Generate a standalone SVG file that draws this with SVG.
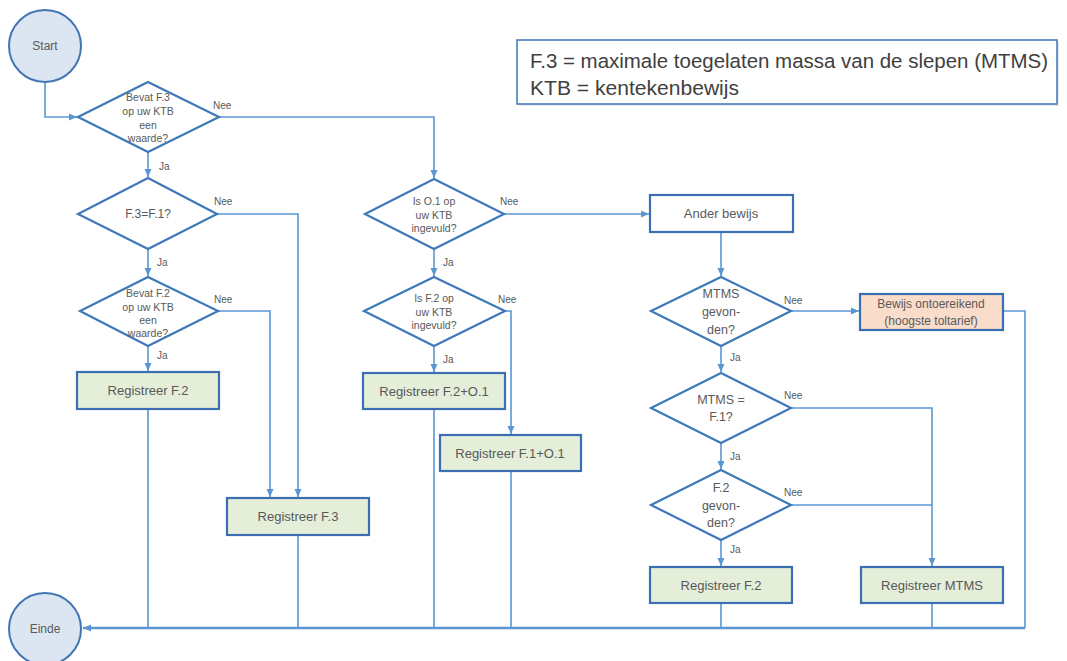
<svg xmlns="http://www.w3.org/2000/svg" width="1067" height="661" viewBox="0 0 1067 661">
<style>
.bg{fill:#ffffff}
.circ{fill:#dce6f2;stroke:#4275b4;stroke-width:2}
.dia{fill:#ffffff;stroke:#3f78ba;stroke-width:2.2}
.box{fill:#e4eed9;stroke:#3b6fb2;stroke-width:2.2}
.warn{fill:#fadccb;stroke:#3b6fb2;stroke-width:2.2}
.leg{fill:#ffffff;stroke:#4a7ebb;stroke-width:1.6}
.ln{fill:none;stroke:#5b96d3;stroke-width:1.6}
.thick{fill:none;stroke:#5b96d3;stroke-width:2.6}
text{font-family:"Liberation Sans",Arial,sans-serif;fill:#595959}
.t{font-size:13px;text-anchor:middle}
.s{font-size:10.5px;text-anchor:middle}
.m{font-size:12.5px;text-anchor:middle}
.lab{font-size:10px}
.lg{font-size:20.5px;fill:#404040}
</style>
<defs>
<marker id="arr" markerUnits="userSpaceOnUse" markerWidth="9" markerHeight="9" refX="8" refY="4" orient="auto">
<path d="M0,0.5 L8,4 L0,7.5 z" fill="#5b96d3"/>
</marker>
</defs>
<rect class="bg" x="0" y="0" width="1067" height="661"/>

<g id="legend">
<rect x="519" y="42" width="540" height="64" fill="#d9d9d9" opacity="0.6"/>
<rect class="leg" x="517" y="40" width="540" height="64"/>
<text class="lg" x="530" y="68" textLength="518" lengthAdjust="spacingAndGlyphs">F.3 = maximale toegelaten massa van de slepen (MTMS)</text>
<text class="lg" x="530" y="95" textLength="209" lengthAdjust="spacingAndGlyphs">KTB = kentekenbewijs</text>
</g>

<g id="connectors">
<path class="ln" d="M45,82 V117 H77" marker-end="url(#arr)"/>
<path class="ln" d="M219,117 H434 V178" marker-end="url(#arr)"/>
<path class="ln" d="M148,152 V177" marker-end="url(#arr)"/>
<path class="ln" d="M217,214 H298 V497" marker-end="url(#arr)"/>
<path class="ln" d="M148,249 V276" marker-end="url(#arr)"/>
<path class="ln" d="M218,311 H270 V497" marker-end="url(#arr)"/>
<path class="ln" d="M148,346 V371" marker-end="url(#arr)"/>
<path class="ln" d="M148,409 V628"/>
<path class="ln" d="M298,535 V628"/>
<path class="ln" d="M504,214 H649" marker-end="url(#arr)"/>
<path class="ln" d="M434,249 V276" marker-end="url(#arr)"/>
<path class="ln" d="M505,311 H511 V434" marker-end="url(#arr)"/>
<path class="ln" d="M434,346 V372" marker-end="url(#arr)"/>
<path class="ln" d="M434,409 V628"/>
<path class="ln" d="M511,471 V628"/>
<path class="ln" d="M721,232 V276" marker-end="url(#arr)"/>
<path class="ln" d="M791,311 H859" marker-end="url(#arr)"/>
<path class="ln" d="M721,346 V372" marker-end="url(#arr)"/>
<path class="ln" d="M791,408 H932 V566" marker-end="url(#arr)"/>
<path class="ln" d="M721,443 V469" marker-end="url(#arr)"/>
<path class="ln" d="M791,505 H932"/>
<path class="ln" d="M721,540 V566" marker-end="url(#arr)"/>
<path class="ln" d="M721,603 V628"/>
<path class="ln" d="M932,603 V628"/>
<path class="ln" d="M1003,311 H1025 V628"/>
<path class="thick" d="M1025,628 H83" marker-end="url(#arr)"/>
<text class="lab" x="213" y="109">Nee</text>
<text class="lab" x="214" y="205">Nee</text>
<text class="lab" x="214" y="303">Nee</text>
<text class="lab" x="500" y="205">Nee</text>
<text class="lab" x="498" y="303">Nee</text>
<text class="lab" x="784" y="304">Nee</text>
<text class="lab" x="784" y="399">Nee</text>
<text class="lab" x="784" y="496">Nee</text>
<text class="lab" x="159" y="170">Ja</text>
<text class="lab" x="157" y="266">Ja</text>
<text class="lab" x="157" y="359">Ja</text>
<text class="lab" x="443" y="266">Ja</text>
<text class="lab" x="443" y="363">Ja</text>
<text class="lab" x="730" y="361">Ja</text>
<text class="lab" x="730" y="460">Ja</text>
<text class="lab" x="730" y="553">Ja</text>
</g>

<g id="start">
<circle class="circ" cx="45" cy="46" r="36"/>
<text class="t" x="45" y="50" style="font-size:12px">Start</text>
</g>

<g id="einde">
<circle class="circ" cx="45" cy="629" r="36"/>
<text class="t" x="45" y="633" style="font-size:12px">Einde</text>
</g>

<g id="d1">
<polygon class="dia" points="148,82 219,117 148,152 78,117"/>
<text class="s" x="148" y="101">Bevat F.3</text>
<text class="s" x="148" y="115">op uw KTB</text>
<text class="s" x="148" y="129">een</text>
<text class="s" x="148" y="142">waarde?</text>
</g>

<g id="d2">
<polygon class="dia" points="148,178 217,214 148,249 78,214"/>
<text class="m" x="148" y="218" style="font-size:12px">F.3=F.1?</text>
</g>

<g id="d3">
<polygon class="dia" points="148,277 218,311 148,346 80,311"/>
<text class="s" x="148" y="297">Bevat F.2</text>
<text class="s" x="148" y="311">op uw KTB</text>
<text class="s" x="148" y="324">een</text>
<text class="s" x="148" y="337">waarde?</text>
</g>

<g id="regf2">
<rect class="box" x="77" y="372" width="142" height="37"/>
<text class="t" x="148" y="395">Registreer F.2</text>
</g>

<g id="regf3">
<rect class="box" x="227" y="498" width="142" height="37"/>
<text class="t" x="298" y="521">Registreer F.3</text>
</g>

<g id="d4">
<polygon class="dia" points="434,179 504,214 434,249 365,214"/>
<text class="s" x="434" y="205">Is O.1 op</text>
<text class="s" x="434" y="219">uw KTB</text>
<text class="s" x="434" y="232">ingevuld?</text>
</g>

<g id="d5">
<polygon class="dia" points="434,277 505,311 434,346 364,311"/>
<text class="s" x="434" y="302">Is F.2 op</text>
<text class="s" x="434" y="316">uw KTB</text>
<text class="s" x="434" y="329">ingevuld?</text>
</g>

<g id="regf2o1">
<rect class="box" x="363" y="373" width="142" height="36"/>
<text class="t" x="434" y="396">Registreer F.2+O.1</text>
</g>

<g id="regf1o1">
<rect class="box" x="440" y="435" width="141" height="36"/>
<text class="t" x="510" y="458">Registreer F.1+O.1</text>
</g>

<g id="ander">
<rect x="650" y="195" width="143" height="37" fill="#ffffff" stroke="#3b6fb2" stroke-width="2.2"/>
<text class="t" x="721" y="218">Ander bewijs</text>
</g>

<g id="d6">
<polygon class="dia" points="721,277 791,311 721,346 651,311"/>
<text class="m" x="721" y="298">MTMS</text>
<text class="m" x="721" y="316">gevon-</text>
<text class="m" x="721" y="334">den?</text>
</g>

<g id="bewijs">
<rect class="warn" x="860" y="294" width="143" height="36"/>
<text class="t" x="931" y="308" style="font-size:12px">Bewijs ontoereikend</text>
<text class="t" x="931" y="325" style="font-size:12px">(hoogste toltarief)</text>
</g>

<g id="d7">
<polygon class="dia" points="721,373 791,408 721,443 651,408"/>
<text class="m" x="721" y="404">MTMS =</text>
<text class="m" x="721" y="421">F.1?</text>
</g>

<g id="d8">
<polygon class="dia" points="721,470 791,505 721,540 651,505"/>
<text class="m" x="721" y="492">F.2</text>
<text class="m" x="721" y="510">gevon-</text>
<text class="m" x="721" y="527">den?</text>
</g>

<g id="regf2b">
<rect class="box" x="650" y="567" width="142" height="36"/>
<text class="t" x="721" y="590">Registreer F.2</text>
</g>

<g id="regmtms">
<rect class="box" x="861" y="567" width="142" height="36"/>
<text class="t" x="932" y="590">Registreer MTMS</text>
</g>
</svg>
